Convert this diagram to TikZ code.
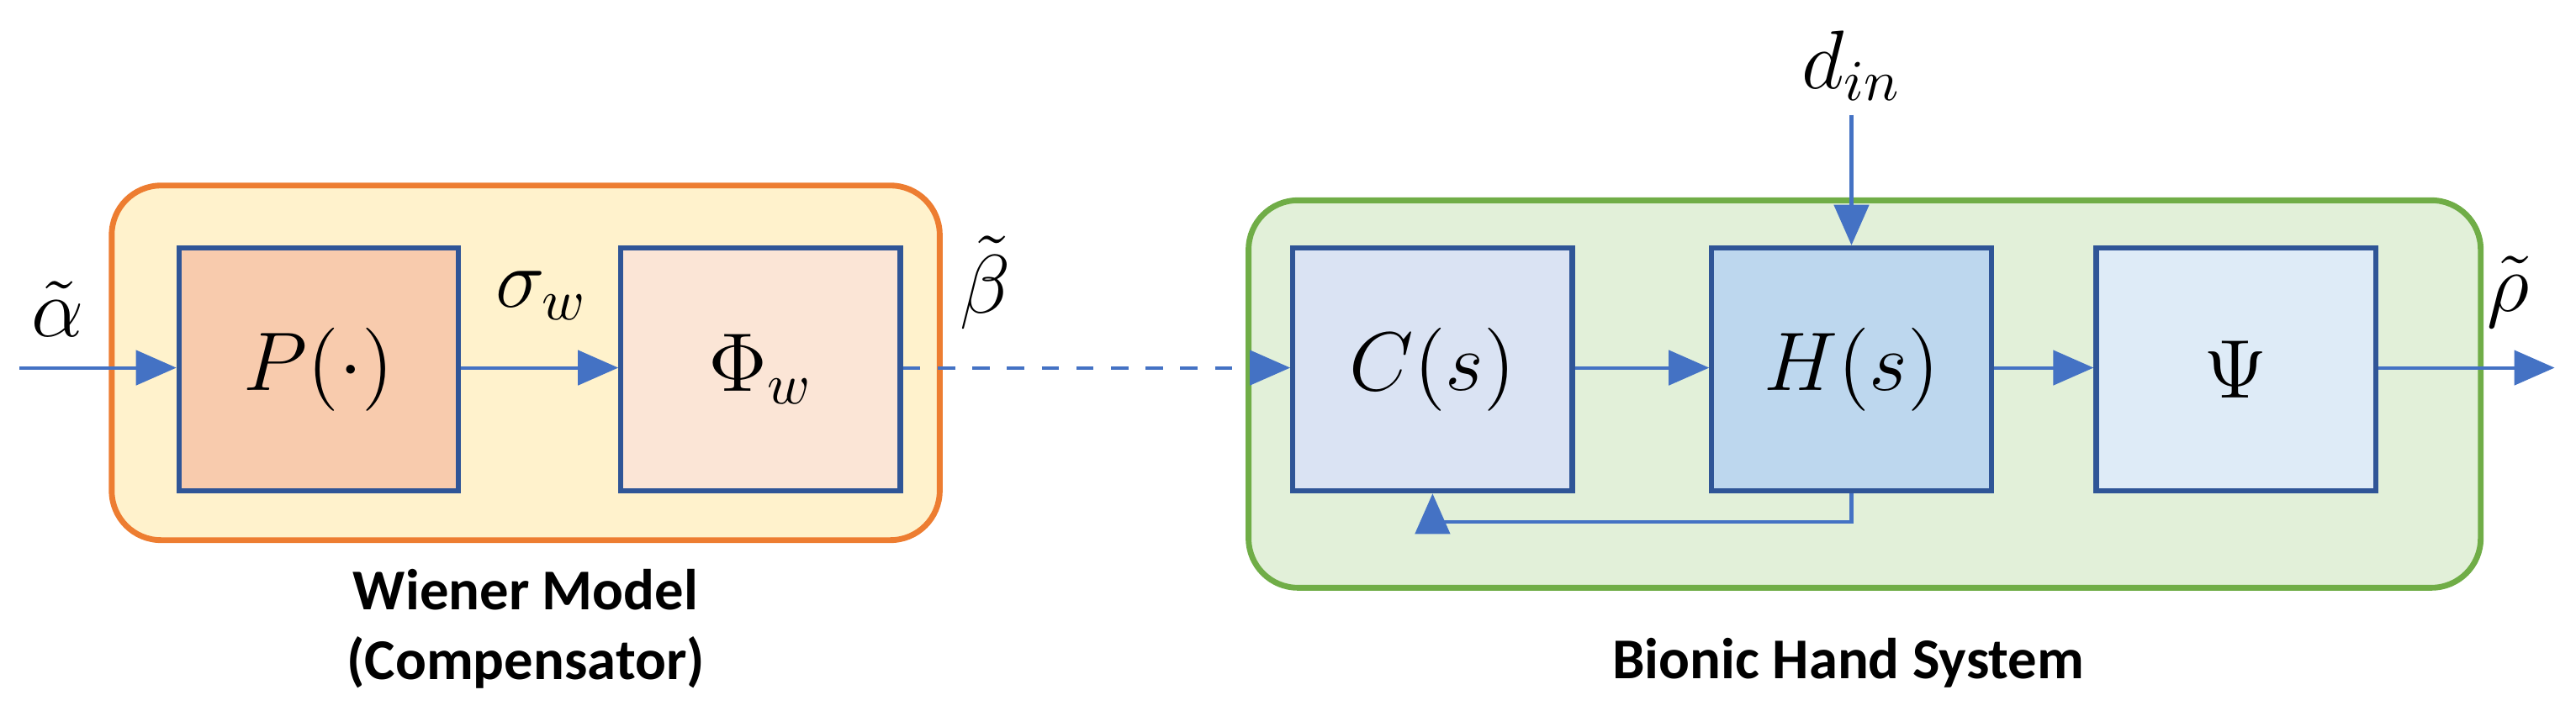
\documentclass[tikz,border=0pt]{standalone}
\usepackage{fontspec}
\setmainfont{Carlito}
\usepackage{amsmath}
\usetikzlibrary{arrows.meta}
\definecolor{bl}{HTML}{4472C4}
\definecolor{bd}{HTML}{2F5597}
\definecolor{ofill}{HTML}{FFF2CC}
\definecolor{oline}{HTML}{ED7D31}
\definecolor{gfill}{HTML}{E2F0D9}
\definecolor{gline}{HTML}{70AD47}
\definecolor{pfill}{HTML}{F8CBAD}
\definecolor{ffill}{HTML}{FBE5D6}
\definecolor{cfill}{HTML}{DAE3F3}
\definecolor{hfill}{HTML}{BDD7EE}
\definecolor{sfill}{HTML}{DEEBF7}
\begin{document}
\begin{tikzpicture}[x=0.01cm,y=-0.01cm,
 blk/.style={draw=bd,line width=0.9pt,minimum width=1.7cm,minimum height=1.48cm,font=\fontsize{14}{17}\selectfont},
 arr/.style={draw=bl,line width=0.6pt,-{Triangle[length=7pt,width=6pt]}},
 lab/.style={font=\fontsize{14}{17}\selectfont},
 captxt/.style={font=\bfseries\fontsize{10}{12}\selectfont,align=center}]
\useasboundingbox (0,0) rectangle (1568,433);
\draw[draw=oline,fill=ofill,line width=1pt,rounded corners=0.3cm] (68,113) rectangle (572,329);
\draw[draw=gline,fill=gfill,line width=1pt,rounded corners=0.3cm] (760,122) rectangle (1510,358);
\node[blk,fill=pfill] (P) at (194,225) {$P(\cdot)$};
\node[blk,fill=ffill] (F) at (463,225) {$\Phi_w$};
\node[blk,fill=cfill] (C) at (872,225) {$C(s)$};
\node[blk,fill=hfill] (H) at (1127,225) {$H(s)$};
\node[blk,fill=sfill] (S) at (1361,225) {$\Psi$};
\coordinate (in) at (12,224);
\coordinate (out) at (1555,224);
\coordinate (d) at (1127,70);
\draw[arr] (in) -- (in -| P.west);
\draw[arr] (P.east |- in) -- (F.west |- in);
\draw[arr,dashed] (F.east |- in) -- (C.west |- in);
\draw[arr] (C.east |- in) -- (H.west |- in);
\draw[arr] (H.east |- in) -- (S.west |- in);
\draw[arr] (S.east |- in) -- (out);
\draw[arr] (d) -- (H.north);
\draw[arr] (H.south) -- (1127,318) -| (C.south);
\node[lab] (a) at (35,188) {$\tilde\alpha$};
\node[lab] (sw) at (330,180) {$\sigma_w$};
\node[lab] (b) at (600,172) {$\tilde\beta$};
\node[lab] (r) at (1527,178) {$\tilde\rho$};
\node[lab] (di) at (1127,40) {$d_{in}$};
\node[captxt] (wm) at (320,383) {Wiener Model\\(Compensator)};
\node[captxt] (bh) at (1125,404) {Bionic Hand System};
\end{tikzpicture}
\end{document}
